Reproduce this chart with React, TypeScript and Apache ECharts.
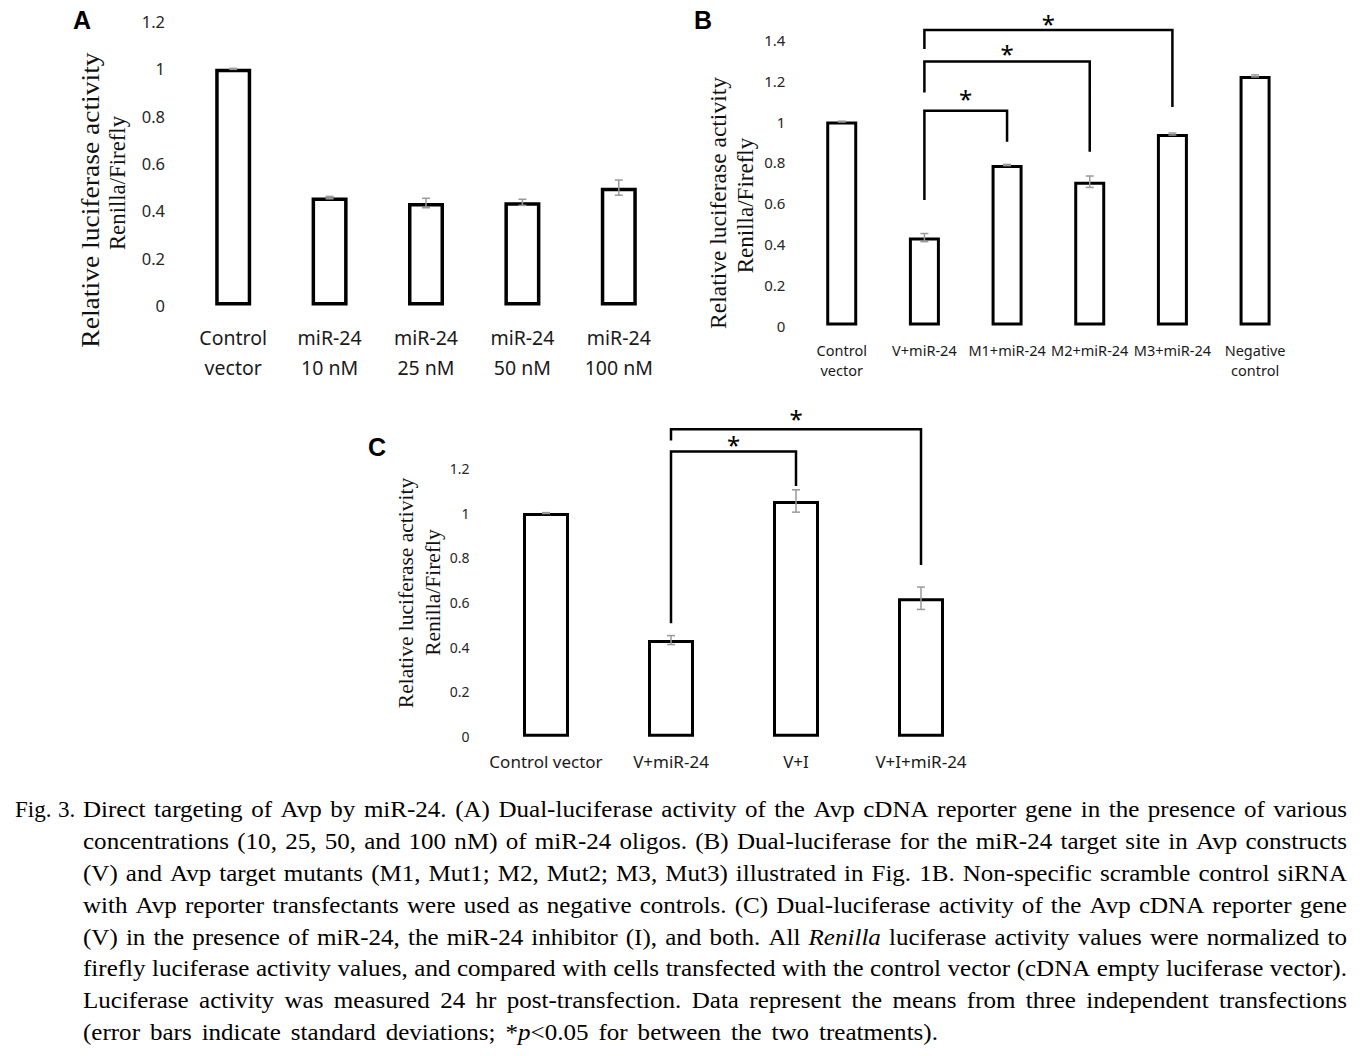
import React, { useEffect, useRef } from "react";
import * as echarts from "echarts";

// ---------------- data ----------------
const catsA = ["Control\nvector", "miR-24\n10 nM", "miR-24\n25 nM", "miR-24\n50 nM", "miR-24\n100 nM"];
const valsA = [1.0, 0.456, 0.433, 0.436, 0.498];
const errA = [0.002, 0.005, 0.02, 0.013, 0.032];

const catsB = ["Control\nvector", "V+miR-24", "M1+miR-24", "M2+miR-24", "M3+miR-24", "Negative\ncontrol"];
const valsB = [1.0, 0.431, 0.787, 0.705, 0.939, 1.224];
const errB = [0.002, 0.02, 0.003, 0.028, 0.005, 0.005];

const catsC = ["Control vector", "V+miR-24", "V+I", "V+I+miR-24"];
const valsC = [1.0, 0.432, 1.054, 0.619];
const errC = [0.002, 0.02, 0.05, 0.05];

// significance brackets: [leftIdx, rightIdx, top, leftBottom, rightBottom, starLevel]
const bracketsB = [
  [1, 2, 1.053, 0.616, 0.901, 1.113],
  [1, 3, 1.294, 1.142, 0.852, 1.334],
  [1, 4, 1.449, 1.356, 1.072, 1.481],
];
const bracketsC = [
  [1, 2, 1.275, 0.507, 1.121, 1.308],
  [1, 3, 1.375, 1.324, 0.768, 1.423],
];

const yTitle1 = "Relative luciferase activity";
const yTitle2 = "Renilla/Firefly";

const captionLabel = "Fig. 3.";
const captionLines = [
  "Direct targeting of Avp by miR-24. (A) Dual-luciferase activity of the Avp cDNA reporter gene in the presence of various",
  "concentrations (10, 25, 50, and 100 nM) of miR-24 oligos. (B) Dual-luciferase for the miR-24 target site in Avp constructs",
  "(V) and Avp target mutants (M1, Mut1; M2, Mut2; M3, Mut3) illustrated in Fig. 1B. Non-specific scramble control siRNA",
  "with Avp reporter transfectants were used as negative controls. (C) Dual-luciferase activity of the Avp cDNA reporter gene",
  "(V) in the presence of miR-24, the miR-24 inhibitor (I), and both. All _Renilla_ luciferase activity values were normalized to",
  "firefly luciferase activity values, and compared with cells transfected with the control vector (cDNA empty luciferase vector).",
  "Luciferase activity was measured 24 hr post-transfection. Data represent the means from three independent transfections",
  "(error bars indicate standard deviations; *_p_<0.05 for between the two treatments).",
];

// ---------------- helpers ----------------
const SANS = "Noto Sans";
const SERIF = "Liberation Serif";

function errSeries(k: number, vals: number[], errs: number[]) {
  return {
    type: "custom",
    xAxisIndex: k,
    yAxisIndex: k,
    z: 5,
    silent: true,
    data: vals.map((v, i) => [i, v, errs[i]]),
    encode: { x: 0, y: 1 },
    renderItem: (_p: any, api: any) => {
      const i = api.value(0);
      const v = api.value(1);
      const e = api.value(2);
      const t = api.coord([i, v + e]);
      const b = api.coord([i, v - e]);
      const w = 4;
      const st = { stroke: "#9a9a9a", lineWidth: 1.5 };
      return {
        type: "group",
        children: [
          { type: "line", shape: { x1: t[0], y1: t[1], x2: b[0], y2: b[1] }, style: st },
          { type: "line", shape: { x1: t[0] - w, y1: t[1], x2: t[0] + w, y2: t[1] }, style: st },
          { type: "line", shape: { x1: b[0] - w, y1: b[1], x2: b[0] + w, y2: b[1] }, style: st },
        ],
      };
    },
  };
}

function bracketSeries(k: number, br: number[][]) {
  return {
    type: "custom",
    xAxisIndex: k,
    yAxisIndex: k,
    z: 6,
    silent: true,
    clip: false,
    data: br,
    encode: { x: [0, 1], y: [2, 3, 4, 5] },
    renderItem: (_p: any, api: any) => {
      const l = api.value(0);
      const r = api.value(1);
      const top = api.value(2);
      const lb = api.value(3);
      const rb = api.value(4);
      const s = api.value(5);
      const p1 = api.coord([l, lb]);
      const p2 = api.coord([l, top]);
      const p3 = api.coord([r, top]);
      const p4 = api.coord([r, rb]);
      const sy = api.coord([l, s])[1];
      return {
        type: "group",
        children: [
          {
            type: "polyline",
            shape: { points: [p1, p2, p3, p4] },
            style: { stroke: "#000", lineWidth: 2.5, fill: "none" },
          },
          {
            type: "text",
            x: (p2[0] + p3[0]) / 2,
            y: sy,
            style: {
              text: "*",
              fontSize: 24,
              fontFamily: SANS,
              fill: "#000",
              align: "center",
              verticalAlign: "middle",
            },
          },
        ],
      };
    },
  };
}

function xAxisCfg(k: number, data: string[], fontSize: number, lineHeight: number, margin: number) {
  return {
    type: "category",
    gridIndex: k,
    data,
    axisLine: { show: false },
    axisTick: { show: false },
    axisLabel: {
      interval: 0,
      margin,
      fontSize,
      lineHeight,
      color: "#1a1a1a",
      fontFamily: SANS,
    },
  };
}

function yAxisCfg(k: number, max: number, fontSize: number, margin: number) {
  return {
    type: "value",
    gridIndex: k,
    min: 0,
    max,
    interval: 0.2,
    axisLine: { show: false },
    axisTick: { show: false },
    splitLine: { show: false },
    axisLabel: { margin, fontSize, color: "#262626", fontFamily: SANS },
  };
}

function barSeries(k: number, vals: number[], barWidth: number, bw: number) {
  return {
    type: "bar",
    xAxisIndex: k,
    yAxisIndex: k,
    data: vals,
    barWidth,
    silent: true,
    itemStyle: { color: "#fff", borderColor: "#000", borderWidth: bw },
  };
}

function vText(text: string, x: number, y: number, size: number, sx: number) {
  return {
    type: "text",
    x,
    y,
    rotation: Math.PI / 2,
    scaleX: sx,
    style: {
      text,
      fontSize: size,
      fontFamily: SERIF,
      fill: "#111",
      align: "center",
      verticalAlign: "middle",
    },
  };
}

function letter(text: string, x: number, y: number) {
  return {
    type: "text",
    x,
    y,
    style: {
      text,
      fontSize: 25,
      fontWeight: "bold",
      fontFamily: "Liberation Sans",
      fill: "#000",
      align: "center",
      verticalAlign: "middle",
    },
  };
}

function buildCaption(): any[] {
  const canvas = document.createElement("canvas");
  const ctx = canvas.getContext("2d") as CanvasRenderingContext2D;
  const size = 23;
  const measure = (t: string, italic: boolean) => {
    ctx.font = `${italic ? "italic " : ""}${size}px "${SERIF}"`;
    return ctx.measureText(t).width;
  };
  const parsed = captionLines.map((line) =>
    line.split(" ").map((w) => {
      const segs = w
        .split("_")
        .map((s, si) => ({ text: s, italic: si % 2 === 1 }))
        .filter((s) => s.text.length);
      const widths = segs.map((s) => measure(s.text, s.italic));
      return { segs, widths, total: widths.reduce((a, b) => a + b, 0) };
    })
  );
  const startX = 83;
  const fullEnd = 1347;
  // horizontal stretch to mimic the wider book face of the original
  const normalGap = 6.5;
  let sx = 10;
  parsed.forEach((words, li) => {
    if (li === parsed.length - 1) return;
    const sum = words.reduce((a, w) => a + w.total, 0);
    const s = (fullEnd - startX - (words.length - 1) * normalGap) / sum;
    sx = Math.min(sx, s);
  });
  sx = Math.min(sx, 1.18);
  const out: any[] = [];
  const lineY = (li: number) => 809.3 + li * 31.9;
  const textEl = (text: string, x: number, y: number, italic: boolean, scale: number) => ({
    type: "text",
    x,
    y,
    scaleX: scale,
    style: {
      text,
      fontSize: size,
      fontFamily: SERIF,
      fontStyle: italic ? "italic" : "normal",
      fill: "#000",
      align: "left",
      verticalAlign: "middle",
    },
  });
  // "Fig. 3." hanging label
  const labWords = captionLabel.split(" ");
  let lx = 15;
  labWords.forEach((w) => {
    out.push(textEl(w, lx, lineY(0), false, 1));
    lx += measure(w, false) + normalGap;
  });
  parsed.forEach((words, li) => {
    const endX = li === parsed.length - 1 ? 938 : fullEnd;
    const y = lineY(li);
    const sum = words.reduce((a, w) => a + w.total * sx, 0);
    const gap = words.length > 1 ? (endX - startX - sum) / (words.length - 1) : 0;
    let x = startX;
    words.forEach((w) => {
      let px = x;
      w.segs.forEach((s, si) => {
        out.push(textEl(s.text, px, y, s.italic, sx));
        px += w.widths[si] * sx;
      });
      x += w.total * sx + gap;
    });
  });
  return out;
}

export default function App() {
  const ref = useRef<HTMLDivElement>(null);
  useEffect(() => {
    document.body.style.margin = "0";
    document.body.style.overflow = "hidden";
    const chart = echarts.init(ref.current as HTMLDivElement, undefined, { renderer: "svg" });
    const option: any = {
      animation: false,
      backgroundColor: "#fff",
      grid: [
        { left: 185, top: 21.5, width: 482, height: 284, containLabel: false },
        { left: 800.4, top: 40, width: 496, height: 285.5, containLabel: false },
        { left: 483.5, top: 468.3, width: 500, height: 268.4, containLabel: false },
      ],
      xAxis: [
        xAxisCfg(0, catsA, 19.5, 30, 16.5),
        xAxisCfg(1, catsB, 14.5, 20, 14.5),
        xAxisCfg(2, catsC, 17, 22, 14),
      ],
      yAxis: [yAxisCfg(0, 1.2, 16.5, 20), yAxisCfg(1, 1.4, 15, 15), yAxisCfg(2, 1.2, 14, 14)],
      series: [
        barSeries(0, valsA, 36, 3.5),
        errSeries(0, valsA, errA),
        barSeries(1, valsB, 31, 3),
        errSeries(1, valsB, errB),
        bracketSeries(1, bracketsB),
        barSeries(2, valsC, 46, 3),
        errSeries(2, valsC, errC),
        bracketSeries(2, bracketsC),
      ],
      graphic: [
        letter("A", 82, 20),
        letter("B", 703, 20),
        letter("C", 377, 447),
        vText(yTitle1, 90, 200, 26, 1.06),
        vText(yTitle2, 117, 183, 24, 0.95),
        vText(yTitle1, 718, 203, 23.5, 1.0),
        vText(yTitle2, 745, 205.5, 23.5, 0.98),
        vText(yTitle1, 406, 593, 21.5, 1.0),
        vText(yTitle2, 433, 592.5, 21.5, 1.0),
        ...buildCaption(),
      ],
    };
    chart.setOption(option);
    return () => chart.dispose();
  }, []);
  return <div ref={ref} style={{ width: 1366, height: 1056 }} />;
}
